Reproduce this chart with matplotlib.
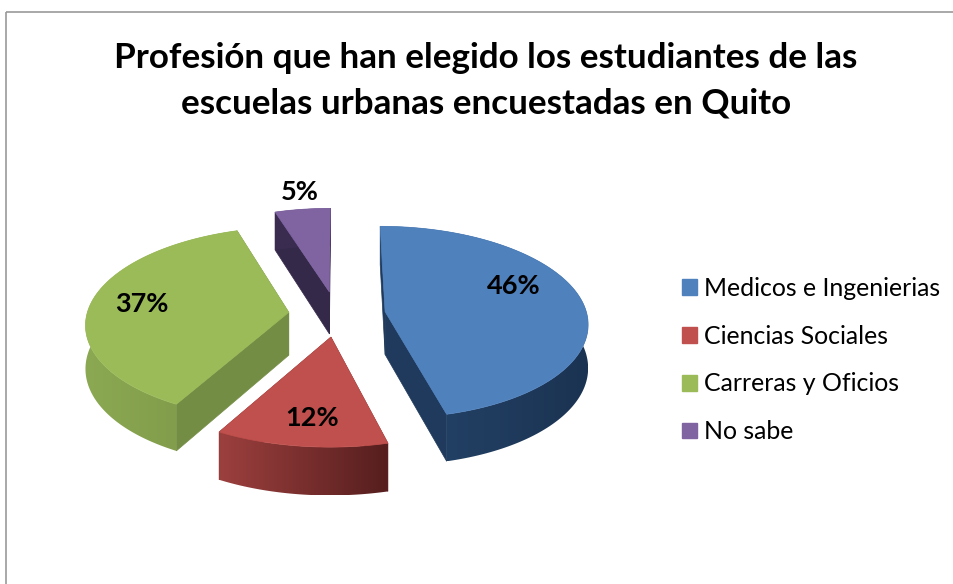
import numpy as np
import matplotlib
matplotlib.use("Agg")
import matplotlib.pyplot as plt
from matplotlib.patches import Polygon, Patch, Rectangle
from matplotlib.colors import to_rgb

title = "Profesión que han elegido los estudiantes de las\nescuelas urbanas encuestadas en Quito"
categories = ["Medicos e Ingenierias", "Ciencias Sociales", "Carreras y Oficios", "No sabe"]
values = [46, 12, 37, 5]
top_colors = ["#4F81BD", "#C0504D", "#9BBB59", "#8064A2"]
rim_colors = [("#1B3352", "#25466C"), ("#561E1E", "#9C403E"), ("#7C9748", "#8BA852"), ("#3A2C50", "#3A2C50")]
wall_colors = ["#1F3A5C", "#7A2E2C", "#748D44", "#35294A"]
label_xy = [(514, 286), (312, 418), (142, 304), (300, 192)]

W, H = 954, 584
CX, CY = 337, 314.5
RX, RY = 202, 95
EXPLODE = 0.24
PERSP = 0.11
DEPTH = 43

fig = plt.figure(figsize=(W / 100, H / 100), dpi=100)
ax = fig.add_axes([0, 0, 1, 1])
ax.axis("off")


def depth_at(v):
    return DEPTH * (1 - 0.1 * v)


def mix(a, b, t):
    a, b = np.array(to_rgb(a)), np.array(to_rgb(b))
    return a + (b - a) * t


ax.add_patch(Rectangle((6, 12), W + 20, H + 20, fill=False, ec="#9A9A9A", lw=1.2, zorder=0.5))

fracs = np.array(values) / sum(values)
edges = np.concatenate([[0], np.cumsum(fracs)]) * 2 * np.pi
order = [3, 2, 0, 1]  # back to front
z = 1
for i in order:
    a0, a1 = edges[i], edges[i + 1]
    mid = (a0 + a1) / 2
    ex, ev = EXPLODE * np.sin(mid), EXPLODE * np.cos(mid)
    apex = np.array([CX + ex * RX, CY - ev * RY])

    def rim(th):
        u, v = np.sin(th), np.cos(th)
        s = 1 / (1 + PERSP * (v + ev))
        return ((ex + u) * RX * s + CX, apex[1] - RY * v * s, v + ev)

    ths = np.linspace(a0, a1, 160)
    pts = np.array([rim(t) for t in ths])
    ad = depth_at(ev)
    top = pts[:, :2]
    low = top + np.column_stack([np.zeros(len(pts)), depth_at(pts[:, 2])])
    for p, q in ((top[0], low[0]), (top[-1], low[-1])):
        ax.add_patch(Polygon([apex, p, q, apex + [0, ad]], fc=wall_colors[i], ec=wall_colors[i],
                             lw=0.5, zorder=z))
    z += 1
    # outer curved wall: horizontal gradient clipped to the wall outline
    outline = np.vstack([top, low[::-1]])
    x0, x1 = outline[:, 0].min(), outline[:, 0].max()
    grad = np.array([[mix(rim_colors[i][1], rim_colors[i][0], t) for t in np.linspace(0, 1, 256)]])
    im = ax.imshow(grad, extent=(x0, x1, outline[:, 1].max(), outline[:, 1].min()),
                   aspect="auto", zorder=z, interpolation="bilinear")
    im.set_clip_path(Polygon(outline, transform=ax.transData))
    z += 1
    ax.add_patch(Polygon(np.vstack([[apex], top]), fc=top_colors[i], ec=top_colors[i], lw=0.5, zorder=z))
    z += 1

ax.set_xlim(0, W)
ax.set_ylim(H, 0)

for v, (x, y) in zip(values, label_xy):
    ax.text(x, y, f"{v}%", ha="center", va="center", fontsize=19.5, fontweight="bold",
            family="Lato", color="black", zorder=50)

ax.text(486, 81, title, ha="center", va="center", fontsize=25.2, fontweight="bold",
        family="Lato", color="black", linespacing=1.53, zorder=50)

handles = [Patch(fc=c, ec=c) for c in top_colors]
fs = 17.9
em = fs * 100 / 72
ax.legend(handles, categories, loc="center left", bbox_to_anchor=(682 / W, 1 - 360 / H),
          frameon=False, prop={"family": "Lato", "size": fs},
          handlelength=15 / em, handleheight=15 / em,
          handletextpad=7 / em, labelspacing=1.0, borderpad=0, borderaxespad=0)

fig.savefig("out.png", dpi=100)
